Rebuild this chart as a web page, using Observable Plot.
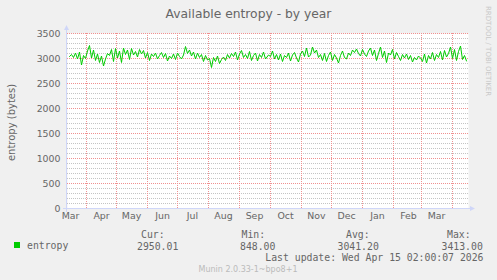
<!DOCTYPE html>
<html>
<head>
<meta charset="utf-8">
<script src="https://cdn.jsdelivr.net/npm/d3@7"></script>
<script src="https://cdn.jsdelivr.net/npm/@observablehq/plot@0.6"></script>
<style>
  html, body { margin: 0; padding: 0; background: #f0f0f0; }
  #chart { width: 497px; height: 280px; }
</style>
</head>
<body>
<div id="chart"></div>
<script>
// ---- data ----
const domainStart = "2025-03-13";
const domainEnd = "2026-04-17";
const seriesStart = "2025-03-15";
const seriesStepDays = 2;
const entropy = [
  3040, 3080, 3020, 3110, 2990, 3130, 2870, 3060, 3000, 3150,
  3260, 3010, 3170, 2960, 3090, 2920, 3050, 2850, 2990, 3100,
  3060, 3180, 2940, 3200, 3010, 3150, 2920, 3210, 3080, 3170,
  2980, 3200, 3070, 3140, 3030, 3180, 3090, 3160, 3010, 3120,
  2960, 3090, 3040, 3110, 2990, 3060, 3120, 3020, 3100, 2950,
  3050, 3000, 3090, 2980, 3110, 3040, 2990, 3070, 3240, 3100,
  3170, 3050, 3130, 2990, 3110, 3020, 3080, 2940, 3060, 2970,
  3000, 2820, 3020, 2940, 3050, 2900, 2980, 3030, 2960, 3080,
  3010, 3100, 3040, 3130, 2970, 3090, 3160, 3020, 3080, 3000,
  3140, 2960, 3060, 3110, 2950, 3080, 3020, 3130, 2990, 3070,
  3040, 3150, 2990, 3080, 2970, 3090, 2940, 3060, 3020, 3110,
  2950, 3070, 3120, 3010, 2930, 3090, 3150, 3040, 3210, 3030,
  3070, 3230, 3110, 3170, 3020, 3080, 2960, 3100, 2940, 3060,
  3130, 2960, 3080, 3010, 2910, 3060, 3150, 3020, 2990, 3110,
  3060, 3170, 3120, 3190, 3100, 3050, 3180, 3090, 3040, 3150,
  3210, 3060, 3170, 2960, 3100, 3230, 3020, 3150, 2920, 3110,
  3070, 3180, 2990, 3120, 3040, 2960, 3080, 3010, 3090, 2980,
  3060, 2930, 3020, 2970, 3050, 3010, 2940, 3090, 2910, 3060,
  2990, 3120, 2960, 3080, 3020, 3140, 2970, 3160, 3030, 3100,
  3230, 3000, 3180, 2960, 3140, 3250, 2980, 3060, 2950
];
const monthLabelDates = [
  "2025-03-16","2025-04-16","2025-05-16","2025-06-16","2025-07-16","2025-08-16",
  "2025-09-16","2025-10-16","2025-11-16","2025-12-16","2026-01-16","2026-02-16","2026-03-16"
];
const monthGridDates = [
  "2025-04-01","2025-05-01","2025-06-01","2025-07-01","2025-08-01","2025-09-01",
  "2025-10-01","2025-11-01","2025-12-01","2026-01-01","2026-02-01","2026-03-01","2026-04-01"
];
const yMajorTicks = [0, 500, 1000, 1500, 2000, 2500, 3000, 3500];
const yMinorStep = 100;
const yMax = 3500;

const title = "Available entropy - by year";
const yLabel = "entropy (bytes)";
const seriesName = "entropy";
const legendHeaders = ["Cur:", "Min:", "Avg:", "Max:"];
const legendValues = ["2950.01", "848.00", "3041.20", "3413.00"];
const lastUpdate = "Last update: Wed Apr 15 02:00:07 2026";
const sideText = "RRDTOOL / TOBI OETIKER";
const footer = "Munin 2.0.33-1~bpo8+1";

// ---- build ----
const parse = d3.utcParse("%Y-%m-%d");
const t0 = parse(seriesStart);
const data = entropy.map((v, i) => ({ date: d3.utcDay.offset(t0, i * seriesStepDays), value: v }));
const yMinor = d3.range(0, yMax + 1, yMinorStep).filter(v => v % 500 !== 0);
const gridRed = "#f09090";
const gridGray = "#c4c4c4";
const axisBlue = "#cfd6f8";
const fontColor = "#666666";

const chart = Plot.plot({
  width: 497,
  height: 280,
  marginLeft: 67,
  marginRight: 29,
  marginTop: 33,
  marginBottom: 72,
  style: { background: "transparent", fontFamily: "DejaVu Sans", fontSize: "9.4px", color: fontColor, overflow: "visible" },
  x: {
    type: "utc",
    domain: [parse(domainStart), parse(domainEnd)],
    round: true,
    ticks: monthLabelDates.map(parse),
    tickFormat: d3.utcFormat("%b"),
    tickSize: 0,
    tickPadding: 4,
    label: null
  },
  y: {
    domain: [0, yMax],
    ticks: yMajorTicks,
    tickFormat: d => String(d),
    tickSize: 0,
    tickPadding: 7,
    label: null
  },
  marks: [
    Plot.frame({ fill: "white", stroke: "none" }),
    Plot.ruleY(yMinor, { stroke: gridGray, strokeDasharray: "1,1" }),
    Plot.ruleX(monthGridDates.map(parse), { stroke: gridRed, strokeDasharray: "1,1" }),
    Plot.ruleY(yMajorTicks, { stroke: gridRed, strokeDasharray: "1,1" }),
    Plot.line(data, { x: "date", y: "value", stroke: "#00cc00", strokeWidth: 1 })
  ]
});
document.getElementById("chart").appendChild(chart);

// decorations positioned from the plot's own scales
const sx = chart.scale("x"), sy = chart.scale("y");
const xL = sx.range[0], xR = sx.range[1];
const yB = sy.apply(0), yT = sy.apply(yMax);
const svg = d3.select(chart);
const g = svg.append("g").attr("text-anchor", "start");

// axes lines + arrows
g.append("line").attr("x1", xL - 0.5).attr("x2", xL - 0.5).attr("y1", yB + 4).attr("y2", yT - 4)
  .attr("stroke", axisBlue);
g.append("line").attr("x1", xL - 4).attr("x2", xR + 4).attr("y1", yB + 0.5).attr("y2", yB + 0.5)
  .attr("stroke", axisBlue);
g.append("path").attr("d", `M${xL - 3},${yT - 3}L${xL + 2},${yT - 3}L${xL - 0.5},${yT - 8}Z`).attr("fill", axisBlue);
g.append("path").attr("d", `M${xR + 2},${yB - 2}L${xR + 2},${yB + 3}L${xR + 7},${yB + 0.5}Z`).attr("fill", axisBlue);

// title
g.append("text").attr("x", 248.5).attr("y", 18).attr("text-anchor", "middle")
  .attr("font-family", "DejaVu Sans").attr("font-size", "12.3px").attr("fill", fontColor).text(title);

// y label
g.append("text").attr("transform", `translate(14.5,${(yB + yT) / 2 + 2}) rotate(-90)`).attr("text-anchor", "middle")
  .attr("font-family", "DejaVu Sans").attr("font-size", "10px").attr("fill", fontColor).text(yLabel);

// side text
g.append("text").attr("transform", "translate(486,6) rotate(90)").attr("text-anchor", "start")
  .attr("font-family", "DejaVu Sans").attr("font-size", "7px").attr("fill", "#c8c8c8").text(sideText);

// legend
const mono = "DejaVu Sans Mono";
g.append("rect").attr("x", 14).attr("y", 242).attr("width", 6).attr("height", 6).attr("fill", "#00cc00");
g.append("text").attr("x", 27).attr("y", 249).attr("text-anchor", "start").attr("font-family", mono).attr("font-size", "9.8px").attr("fill", fontColor).text(seriesName);
const headerX = [141, 241.5, 346, 447];
const valueX = [137, 240, 337.5, 441.5];
legendHeaders.forEach((h, i) => {
  g.append("text").attr("x", headerX[i]).attr("y", 237.5).attr("text-anchor", "start").attr("font-family", mono).attr("font-size", "9.8px").attr("fill", fontColor).text(h);
});
legendValues.forEach((v, i) => {
  g.append("text").attr("x", valueX[i]).attr("y", 249.5).attr("text-anchor", "start").attr("font-family", mono).attr("font-size", "9.8px").attr("fill", fontColor).text(v);
});
g.append("text").attr("x", 483.5).attr("y", 261).attr("text-anchor", "end").attr("font-family", mono).attr("font-size", "9.8px").attr("fill", fontColor).text(lastUpdate);
g.append("text").attr("x", 248).attr("y", 272).attr("text-anchor", "middle").attr("font-family", "DejaVu Sans").attr("font-size", "8px").attr("fill", "#bbbbbb").text(footer);
</script>
</body>
</html>
